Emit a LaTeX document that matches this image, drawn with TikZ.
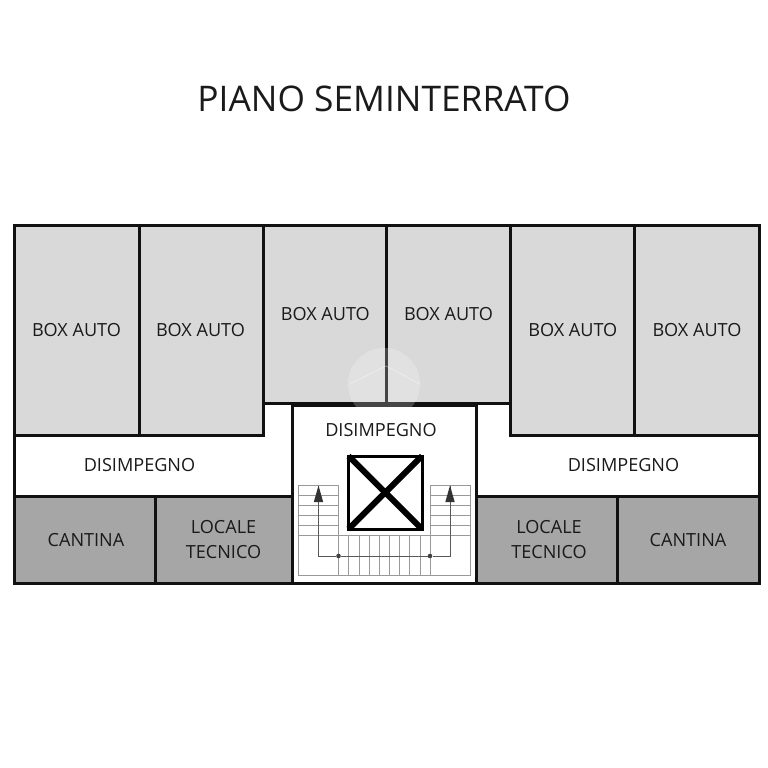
\documentclass[tikz,border=0pt]{standalone}
\usepackage{fontspec}
\setmainfont{Open Sans}
\definecolor{boxgrey}{HTML}{D9D9D9}
\definecolor{cellargrey}{HTML}{A6A6A6}
\definecolor{ink}{HTML}{1A1A1A}
\definecolor{wall}{HTML}{111111}
\definecolor{stairline}{HTML}{999999}
\tikzset{
  boxroom/.style={fill=boxgrey,draw=wall,line width=3pt,line join=miter},
  cellarroom/.style={fill=cellargrey,draw=wall,line width=3pt,line join=miter},
  wallline/.style={draw=wall,line width=3pt,line join=miter},
  label/.style={text=ink,font=\fontsize{18.1pt}{25pt}\selectfont,align=center,inner sep=0pt},
  stepline/.style={draw=stairline,line width=0.7pt},
  flightline/.style={draw=black!65,line width=0.8pt},
  arrowhead/.style={fill=black!80,draw=none},
  landingdot/.style={circle,fill=black!75,draw=none,minimum size=4.6pt,inner sep=0pt}
}
\begin{document}
\begin{tikzpicture}[x=1pt,y=-1pt]
\useasboundingbox (0,0) rectangle (768,768);
\fill[white] (0,0) rectangle (768,768);
% corridors
\draw[wallline,fill=white] (14.6,225.2) rectangle (759.2,583.2);
% parking boxes
\draw[boxroom] (14.6,225.2) rectangle (139.2,435.2);
\draw[boxroom] (139.2,225.2) rectangle (263.2,435.2);
\draw[boxroom] (263.2,225.2) rectangle (386.2,403.2);
\draw[boxroom] (386.2,225.2) rectangle (510.2,403.2);
\draw[boxroom] (510.2,225.2) rectangle (634.2,435.2);
\draw[boxroom] (634.2,225.2) rectangle (759.2,435.2);
% cellars
\draw[cellarroom] (14.6,496.2) rectangle (155.2,583.2);
\draw[cellarroom] (155.2,496.2) rectangle (292.2,583.2);
\draw[cellarroom] (476.2,496.2) rectangle (617.2,583.2);
\draw[cellarroom] (617.2,496.2) rectangle (759.2,583.2);
% stair hall
\draw[wallline,fill=white] (292.2,405.5) rectangle (476.2,583.2);
% lift shaft
\draw[draw=black,line width=3pt] (348.5,456) rectangle (422,529);
\draw[draw=black,line width=6pt] (348.5,456) -- (422,529) (422,456) -- (348.5,529);
% stairs
\foreach \y in {495.7,505.7,515.7,525.7,535.7}{
  \draw[stepline] (298.5,\y) -- (338.5,\y);
  \draw[stepline] (430,\y) -- (470,\y);
}
\foreach \x in {348.7,358.9,369,379.2,389.4,399.6,409.8,420}{
  \draw[stepline] (\x,535.7) -- (\x,575.5);
}
\draw[stepline] (338.5,485.5) rectangle (298.5,575.5);
\draw[stepline] (430,485.5) rectangle (470,575.5);
\draw[stepline] (338.5,535.7) -- (430,535.7);
\draw[stepline] (338.5,575.5) -- (430,575.5);
\coordinate (startL) at (318.5,485.5);
\coordinate (startR) at (450,485.5);
\node[landingdot] (dotL) at (338.5,556) {};
\node[landingdot] (dotR) at (430,556) {};
\draw[flightline] (startL) -- (318.5,556) -- (dotL) -- (dotR) -- (450,556) -- (startR);
\fill[arrowhead] (startL) -- (323.2,502) -- (313.8,502) -- cycle;
\fill[arrowhead] (startR) -- (454.7,502) -- (445.3,502) -- cycle;
% watermark
\begin{scope}
\fill[white,opacity=0.22] (384,384) circle (36);
\draw[white,opacity=0.3,line width=1pt] (350,384) -- (386,366) -- (420,384);
\end{scope}
% labels
\node[label,font=\fontsize{35.3pt}{40pt}\selectfont] (title) at (384,98.5) {PIANO SEMINTERRATO};
\node[label] (b1) at (76.5,330.4) {BOX AUTO};
\node[label] (b2) at (200.5,330.4) {BOX AUTO};
\node[label] (b3) at (325.3,314.4) {BOX AUTO};
\node[label] (b4) at (448.5,314.4) {BOX AUTO};
\node[label] (b5) at (572.8,330.4) {BOX AUTO};
\node[label] (b6) at (697,330.4) {BOX AUTO};
\node[label] (d1) at (139.5,465) {DISIMPEGNO};
\node[label] (d2) at (381,430) {DISIMPEGNO};
\node[label] (d3) at (623.5,465) {DISIMPEGNO};
\node[label] (c1) at (86,540.3) {CANTINA};
\node[label,text width=110pt] (t1) at (223.5,539.5) {LOCALE\\TECNICO};
\node[label,text width=110pt] (t2) at (549,539.5) {LOCALE\\TECNICO};
\node[label] (c2) at (688,540.3) {CANTINA};
\end{tikzpicture}
\end{document}
